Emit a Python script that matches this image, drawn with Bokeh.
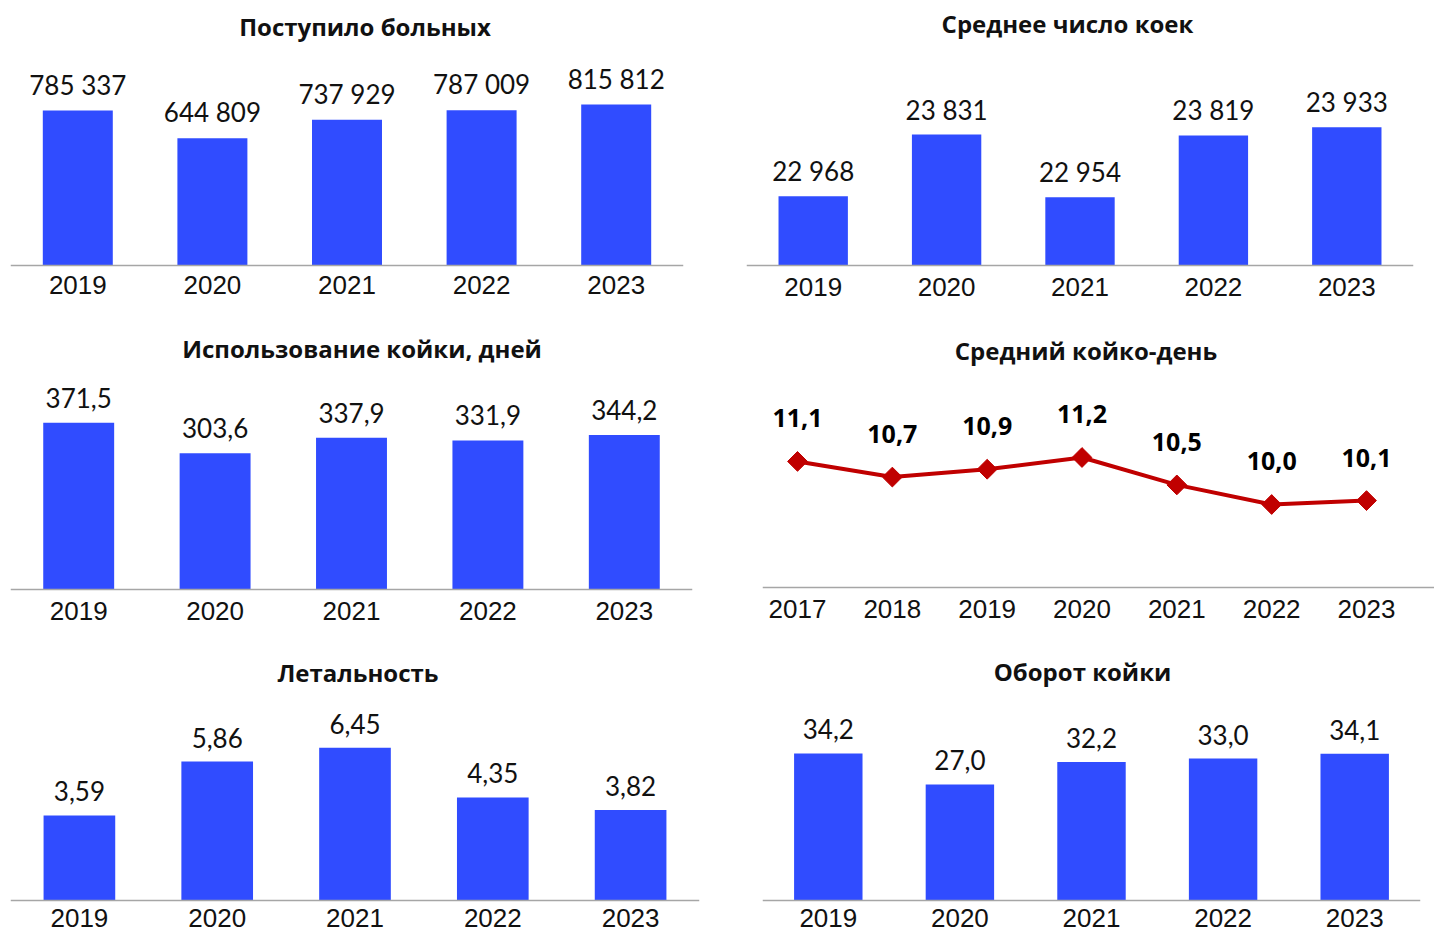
from math import pi
from bokeh.plotting import figure
from bokeh.layouts import column, row
from bokeh.models import Range1d, FactorRange, Label, FixedTicker
from bokeh.embed import file_html
from bokeh.resources import INLINE
from bokeh.core.properties import value

# ---------------- data ----------------
years5 = ["2019", "2020", "2021", "2022", "2023"]
admitted = [785337, 644809, 737929, 787009, 815812]
avg_beds = [22968, 23831, 22954, 23819, 23933]
bed_use_days = [371.5, 303.6, 337.9, 331.9, 344.2]
years7 = [2017, 2018, 2019, 2020, 2021, 2022, 2023]
avg_stay = [11.1, 10.7, 10.9, 11.2, 10.5, 10.0, 10.1]
lethality = [3.59, 5.86, 6.45, 4.35, 3.82]
bed_turnover = [34.2, 27.0, 32.2, 33.0, 34.1]

title_admitted = "Поступило больных"
title_beds = "Среднее число коек"
title_use = "Использование койки, дней"
title_stay = "Средний койко-день"
title_leth = "Летальность"
title_turn = "Оборот койки"

BAR = "#304CFF"
LINE = "#C00000"
AXIS = "#A6A6A6"
TXT = "#111111"


def fmt_int(v):
    return f"{v:,}".replace(",", " ")


def fmt_dec(v, n):
    return f"{v:.{n}f}".replace(".", ",")


def base_fig(w, h, bl, br, x_range, base_px, base_val, px_per_unit, standoff):
    """Frame spans full height; x-axis fixed at the baseline value."""
    y_start = base_val - (h - base_px) / px_per_unit
    y_end = base_val + base_px / px_per_unit
    p = figure(width=w, height=h, x_range=x_range,
               y_range=Range1d(y_start, y_end),
               toolbar_location=None, output_backend="svg",
               y_axis_location=None,
               min_border_left=bl, min_border_right=br,
               min_border_top=0, min_border_bottom=0)
    p.outline_line_color = None
    p.background_fill_color = "white"
    p.border_fill_color = "white"
    for g in p.grid:
        g.visible = False
    ax = p.xaxis[0]
    ax.fixed_location = base_val
    ax.axis_line_color = AXIS
    ax.axis_line_width = 1.5
    ax.major_tick_line_color = None
    ax.minor_tick_line_color = None
    ax.major_tick_out = 0
    ax.major_tick_in = 0
    ax.major_label_standoff = standoff
    ax.major_label_text_font = "Liberation Sans"
    ax.major_label_text_font_size = "26px"
    ax.major_label_text_color = TXT
    return p


def add_title(p, text, x, y):
    p.add_layout(Label(x=x, y=y, x_units="screen", y_units="screen", text=text,
                       text_align="center", text_baseline="middle",
                       text_font="Open Sans", text_font_style="bold",
                       text_font_size="24px", text_color=TXT))


def bar_panel(cats, vals, labels, w, h, bl, br, base_px, base_val, k, standoff,
              title, tx, ty, label_off=25):
    p = base_fig(w, h, bl, br, FactorRange(factors=cats), base_px, base_val, k,
                 standoff)
    p.vbar(x=cats, top=vals, bottom=base_val, width=0.52, color=BAR,
           line_color=None)
    p.text(x=cats, y=vals, text=labels, y_offset=-label_off,
           text_align="center", text_baseline="middle",
           text_font=value("Lato"), text_font_size="26px", text_color=TXT)
    add_title(p, title, tx, ty)
    return p


p1 = bar_panel(years5, admitted, [fmt_int(v) for v in admitted],
               720, 320, 10, 37, 265, 0, 161 / 815812, 10,
               title_admitted, 354.5, 294, 26)
p2 = bar_panel(years5, avg_beds, [fmt_int(v) for v in avg_beds],
               714, 320, 26, 21, 265, 22000, 0.0715, 12,
               title_beds, 321, 297.5, 25)
p3 = bar_panel(years5, bed_use_days, [fmt_dec(v, 1) for v in bed_use_days],
               720, 320, 10, 28, 269, 0, 0.449, 12,
               title_use, 351.5, 292, 25)

# line panel
p4 = base_fig(714, 320, 42, 0, Range1d(2016.631, 2023.717), 267, 7.881, 39.17, 12)
p4.xaxis[0].ticker = FixedTicker(ticks=years7)
p4.line(x=years7, y=avg_stay, line_width=4, color=LINE)
p4.scatter(x=years7, y=avg_stay, marker="square", size=14, angle=pi / 4,
           color=LINE, line_color=LINE)
p4.text(x=years7, y=avg_stay, text=[fmt_dec(v, 1) for v in avg_stay],
        y_offset=-43, text_align="center", text_baseline="middle",
        text_font=value("Open Sans"), text_font_style="bold",
        text_font_size="25px", text_color="black")
add_title(p4, title_stay, 323.5, 290)

p5 = bar_panel(years5, lethality, [fmt_dec(v, 2) for v in lethality],
               720, 294, 10, 21, 260, 0, 23.7, 8,
               title_leth, 347.5, 262, 24)
p6 = bar_panel(years5, bed_turnover, [fmt_dec(v, 1) for v in bed_turnover],
               714, 294, 42, 14, 260, 0, 4.3, 8,
               title_turn, 320, 263, 24)

layout = column(row(p1, p2, spacing=0), row(p3, p4, spacing=0),
                row(p5, p6, spacing=0), spacing=0)

with open("out.html", "w") as f:
    f.write(file_html(layout, INLINE))
